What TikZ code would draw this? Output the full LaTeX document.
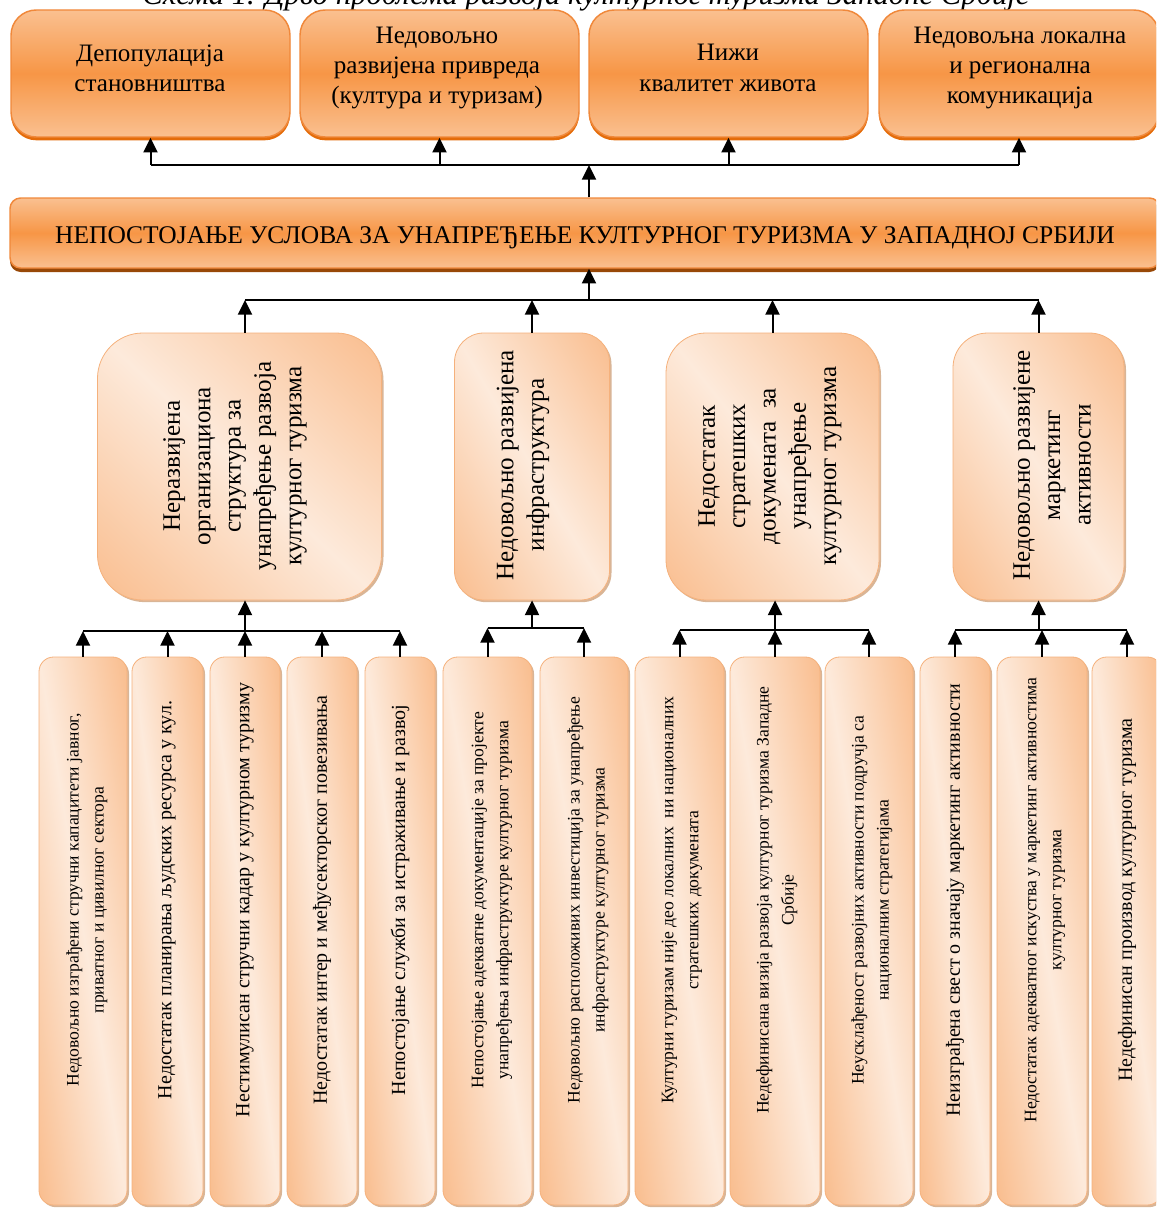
\documentclass[tikz,border=0pt]{standalone}
\usepackage{fontspec}
\setmainfont{Liberation Serif}
\usetikzlibrary{arrows.meta,positioning,calc,shadows}
\definecolor{ornge}{HTML}{F79646}
\definecolor{orlite}{HTML}{FAC090}
\definecolor{oredge}{HTML}{F0883A}
\definecolor{ordark}{HTML}{E46C0A}
\definecolor{orbrown}{HTML}{984807}
\definecolor{peach}{HTML}{F9BD8E}
\definecolor{peachlite}{HTML}{FDEADB}
\definecolor{peachedge}{HTML}{F5B17C}
\definecolor{tanshade}{HTML}{CFA27C}

\tikzset{
  px/.style 2 args={minimum width=#1*.75pt, minimum height=#2*.75pt},
  orbase/.style={draw=oredge, line width=1.1pt, top color=orlite, bottom color=orlite, middle color=ornge, inner sep=0pt},
  topbox/.style={orbase, rounded corners=19pt, drop shadow={shadow xshift=0pt, shadow yshift=-2.5pt, fill=ordark, opacity=1}},
  mainbox/.style={orbase, rounded corners=8pt, drop shadow={shadow xshift=0pt, shadow yshift=-3pt, fill=orbrown, opacity=1}},
  peachbox/.style={draw=peachedge, line width=.6pt, fill=peachlite, inner sep=0pt,
    drop shadow={shadow xshift=1.5pt, shadow yshift=-1.6pt, fill=tanshade, opacity=.8},
    path picture={
      \pgfpointdiff{\pgfpointanchor{path picture bounding box}{south west}}{\pgfpointanchor{path picture bounding box}{north east}}%
      \pgfgetlastxy{\bw}{\bh}%
      \pgfmathsetmacro{\ang}{90-atan2(\bh,\bw)}%
      \pgfmathsetmacro{\half}{\bw*(\bh/veclen(\bw,\bh))}%
      \pgfmathsetmacro{\lng}{veclen(\bw,\bh)/2+4}%
      \shade[left color=peach, right color=peach, middle color=peachlite,
        transform canvas={rotate around={\ang:(path picture bounding box.center)}}]
        ([shift={(-\half pt,-\lng pt)}]path picture bounding box.center) rectangle
        ([shift={(\half pt,\lng pt)}]path picture bounding box.center);
    }},
  toptext/.style={align=center, inner sep=0pt, font=\fontsize{18.8}{22.75}\selectfont},
  midtext/.style={toptext, rotate=90},
  bottext/.style={align=center, inner sep=0pt, rotate=90, font=\fontsize{13.2}{18.75}\selectfont},
  botbig/.style={bottext, font=\fontsize{15}{18}\selectfont},
  arr/.style={-{Triangle[width=10.5pt,length=11pt]}, line width=1.5pt},
  bus/.style={line width=.8pt}
}

\begin{document}
\begin{tikzpicture}[x=.75pt,y=-.75pt]
  \useasboundingbox (0,0) rectangle (1156,1209);
  \clip (0,0) rectangle (1156,1209);

  \node[anchor=base, inner sep=0pt, font=\fontsize{23}{26}\selectfont\itshape] (cap) at (586,5)
    {Схема 1. Дрво проблема развоја културног туризма Западне Србије};

  % posledice
  \foreach \n/\x/\w in {t1/150.5/279, t2/439.5/279, t3/728.5/279, t4/1019/280}
    \node[topbox, px={\w}{127}] (\n) at (\x,73.5) {};
  \node[toptext] (t1l) at (150,68) {Депопулација\\становништва};
  \node[toptext] (t2l) at (437,68) {Недовољно\\развијена привреда\\(култура и туризам)};
  \node[toptext] (t3l) at (728,68) {Нижи\\квалитет живота};
  \node[toptext] (t4l) at (1020,68) {Недовољна локална\\и регионална\\комуникација};

  % centralni problem
  \node[mainbox, px={1150}{70}] (main) at (585,233) {};
  \node[toptext, font=\fontsize{19.1}{23}\selectfont] (mainl) at (585,238) {НЕПОСТОЈАЊЕ УСЛОВА ЗА УНАПРЕЂЕЊЕ КУЛТУРНОГ ТУРИЗМА У ЗАПАДНОЈ СРБИЈИ};

  % uzroci
  \foreach \n/\x/\w/\r in {m1/239.5/284/34, m2/532/155/22, m3/772.5/213/30, m4/1038.5/171/26}
    \node[peachbox, rounded corners=\r pt, px={\w}{267}] (\n) at (\x,466.5) {};
  \node[midtext] (m1l) at (235,466) {Неразвијена\\организациона\\структура за\\унапређење развоја\\културног туризма};
  \node[midtext] (m2l) at (523,465) {Недовољно развијена\\инфраструктура};
  \node[midtext] (m3l) at (770,466) {Недостатак\\стратешких\\докумената\ \ за\\унапређење\\културног туризма};
  \node[midtext] (m4l) at (1052,465) {Недовољно развијене\\маркетинг\\активности};

  \foreach \n/\x/\w in {b1/83/88, b2/167.5/71, b3/245/70, b4/322/70, b5/400/70, b6/487.5/89, b7/584/88,
      b8/679.5/89, b9/775/90, b10/869/88, b11/955/70, b12/1042/90, b13/1127/70}
    \node[peachbox, rounded corners=11pt, px={\w}{548}] (\n) at (\x,931) {};
  \node[bottext] (b1l) at (87,900) {Недовољно изграђени стручни капацитети јавног,\\приватног и цивилног сектора};
  \node[botbig] (b2l) at (167,900) {Недостатак планирања људских ресурса у кул.};
  \node[botbig] (b3l) at (245,900) {Нестимулисан стручни кадар у културном туризму};
  \node[botbig] (b4l) at (322,900) {Недостатак интер и међусекторског повезивања};
  \node[botbig] (b5l) at (400,900) {Непостојање служби за истраживање и развој};
  \node[bottext] (b6l) at (492,900) {Непостојање адекватне документације за пројекте\\унапређења инфраструктуре културног туризма};
  \node[bottext] (b7l) at (588,900) {Недовољно расположивих инвестиција за унапређење\\инфраструктуре културног туризма};
  \node[bottext] (b8l) at (682,900) {Културни туризам није део локалних\ \ ни националних\\стратешких докумената};
  \node[bottext] (b9l) at (777,900) {Недефинисана визија развоја културног туризма Западне\\Србије};
  \node[bottext] (b10l) at (872,900) {Неусклађеност развојних активности подручја са\\националним стратегијама};
  \node[botbig] (b11l) at (955,900) {Неизграђена свест о значају маркетинг активности};
  \node[bottext] (b12l) at (1045,900) {Недостатак адекватног искуства у маркетинг активностима\\културног туризма};
  \node[botbig] (b13l) at (1127,900) {Недефинисан производ културног туризма};

  % veze
  \coordinate (u0) at (589,165);
  \coordinate (u1) at (589,300);
  \coordinate (g1) at (245,631);
  \coordinate (g2) at (530,628);
  \coordinate (g3) at (773,630);
  \coordinate (g4) at (1037,630);

  \draw[bus] (t1.south |- u0) -- (t4.south |- u0);
  \foreach \n in {t1,t2,t3,t4}
    \draw[arr] (\n.south |- u0) -- (\n.south);
  \draw[arr] (main.north -| u0) -- (u0);

  \draw[arr] (u1) -- (main.south -| u1);
  \draw[bus] (b3.north |- u1) -- (m4.north |- u1);
  \draw[arr] (m1.north -| b3.north) -- (b3.north |- u1);
  \foreach \n in {m2,m3,m4}
    \draw[arr] (\n.north) -- (\n.north |- u1);

  \draw[bus] (b1.north |- g1) -- (b5.north |- g1);
  \foreach \n in {b1,b2,b3,b4,b5}
    \draw[arr] (\n.north) -- (\n.north |- g1);
  \draw[arr] (b3.north |- g1) -- (m1.south -| b3.north);

  \draw[bus] (b6.north |- g2) -- (b7.north |- g2);
  \foreach \n in {b6,b7}
    \draw[arr] (\n.north) -- (\n.north |- g2);
  \draw[arr] (m2.south |- g2) -- (m2.south);

  \draw[bus] (b8.north |- g3) -- (b10.north |- g3);
  \foreach \n in {b8,b9,b10}
    \draw[arr] (\n.north) -- (\n.north |- g3);
  \draw[arr] (b9.north |- g3) -- (m3.south -| b9.north);

  \draw[bus] (b11.north |- g4) -- (b13.north |- g4);
  \foreach \n in {b11,b12,b13}
    \draw[arr] (\n.north) -- (\n.north |- g4);
  \draw[arr] (m4.south |- g4) -- (m4.south);
\end{tikzpicture}
\end{document}
